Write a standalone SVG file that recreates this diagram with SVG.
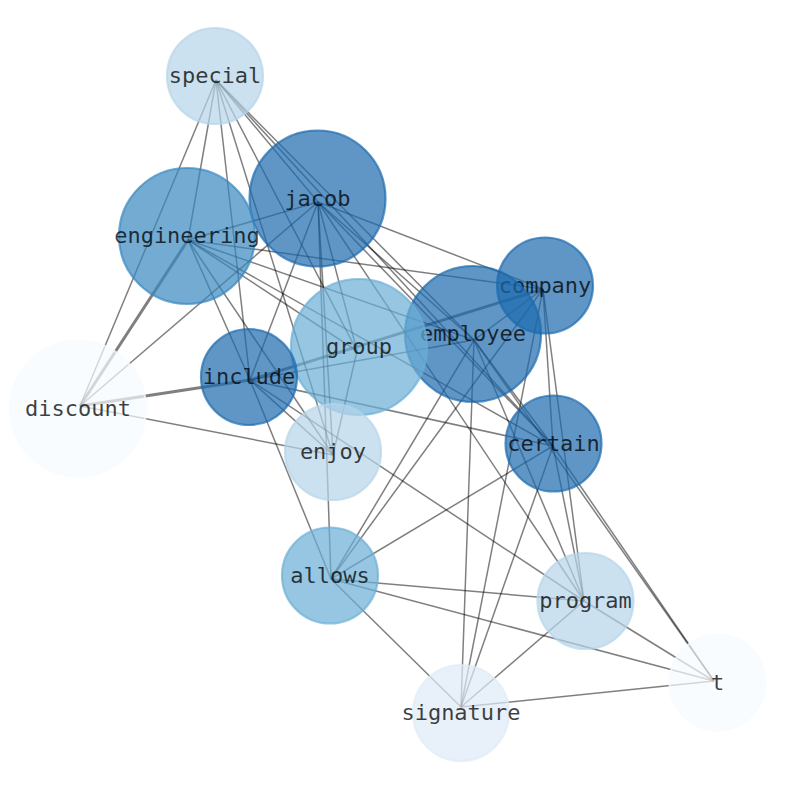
<svg xmlns="http://www.w3.org/2000/svg" width="794" height="790" viewBox="0 0 794 790">
<style>
.e{stroke:#000;stroke-opacity:0.5;stroke-width:1.5;fill:none}
.w{stroke-width:3}
.n{fill-opacity:0.7;stroke-opacity:0.7;stroke-width:2.2}
.l{font-family:"DejaVu Sans Mono",monospace;font-size:22px;fill:#000;fill-opacity:0.75;text-anchor:middle}
.d{fill:#1b69ae;stroke:#1b69ae}
.m{fill:#3787c0;stroke:#3787c0}
.g{fill:#6baed6;stroke:#6baed6}
.s{fill:#b5d4e9;stroke:#b5d4e9}
.x{fill:#deebf7;stroke:#deebf7}
.z{fill:#f7fbff;stroke:#f7fbff}
</style>
<rect width="794" height="790" fill="#fff"/>
<g id="edges">
<line class="e" x1="216" y1="80" x2="80" y2="406"/>
<line class="e" x1="216" y1="80" x2="188" y2="240"/>
<line class="e" x1="216" y1="80" x2="250" y2="380"/>
<line class="e" x1="216" y1="80" x2="333" y2="455"/>
<line class="e" x1="216" y1="80" x2="357" y2="351"/>
<line class="e" x1="216" y1="80" x2="318" y2="202"/>
<line class="e" x1="216" y1="80" x2="474" y2="340"/>
<line class="e" x1="216" y1="80" x2="553" y2="446"/>
<line class="e w" x1="188" y1="240" x2="80" y2="406"/>
<line class="e" x1="188" y1="240" x2="318" y2="202"/>
<line class="e" x1="188" y1="240" x2="543" y2="289"/>
<line class="e" x1="188" y1="240" x2="474" y2="340"/>
<line class="e" x1="188" y1="240" x2="357" y2="351"/>
<line class="e" x1="188" y1="240" x2="250" y2="380"/>
<line class="e" x1="188" y1="240" x2="333" y2="455"/>
<line class="e" x1="188" y1="240" x2="553" y2="446"/>
<line class="e" x1="318" y1="202" x2="80" y2="406"/>
<line class="e" x1="318" y1="202" x2="250" y2="380"/>
<line class="e" x1="318" y1="202" x2="357" y2="351"/>
<line class="e" x1="318" y1="202" x2="333" y2="455"/>
<line class="e" x1="318" y1="202" x2="331" y2="579"/>
<line class="e" x1="318" y1="202" x2="474" y2="340"/>
<line class="e" x1="318" y1="202" x2="543" y2="289"/>
<line class="e" x1="318" y1="202" x2="553" y2="446"/>
<line class="e" x1="318" y1="202" x2="584" y2="601"/>
<line class="e w" x1="80" y1="406" x2="250" y2="380"/>
<line class="e" x1="80" y1="406" x2="333" y2="455"/>
<line class="e w" x1="250" y1="380" x2="543" y2="289"/>
<line class="e" x1="250" y1="380" x2="474" y2="340"/>
<line class="e" x1="250" y1="380" x2="333" y2="455"/>
<line class="e" x1="250" y1="380" x2="331" y2="579"/>
<line class="e" x1="250" y1="380" x2="584" y2="601"/>
<line class="e" x1="250" y1="380" x2="553" y2="446"/>
<line class="e" x1="357" y1="351" x2="333" y2="455"/>
<line class="e" x1="474" y1="340" x2="543" y2="289"/>
<line class="e" x1="474" y1="340" x2="553" y2="446"/>
<line class="e" x1="474" y1="340" x2="331" y2="579"/>
<line class="e" x1="474" y1="340" x2="461" y2="707"/>
<line class="e" x1="474" y1="340" x2="584" y2="601"/>
<line class="e" x1="474" y1="340" x2="714" y2="681"/>
<line class="e" x1="543" y1="289" x2="553" y2="446"/>
<line class="e" x1="543" y1="289" x2="584" y2="601"/>
<line class="e" x1="543" y1="289" x2="461" y2="707"/>
<line class="e" x1="543" y1="289" x2="331" y2="579"/>
<line class="e" x1="553" y1="446" x2="331" y2="579"/>
<line class="e" x1="553" y1="446" x2="461" y2="707"/>
<line class="e" x1="553" y1="446" x2="584" y2="601"/>
<line class="e" x1="553" y1="446" x2="714" y2="681"/>
<line class="e" x1="331" y1="579" x2="584" y2="601"/>
<line class="e" x1="331" y1="579" x2="714" y2="681"/>
<line class="e" x1="331" y1="579" x2="461" y2="707"/>
<line class="e" x1="584" y1="601" x2="461" y2="707"/>
<line class="e" x1="584" y1="601" x2="714" y2="681"/>
<line class="e" x1="461" y1="707" x2="714" y2="681"/>
</g>
<g id="special"><circle class="n s" cx="215" cy="76" r="48"/><text class="l" x="215" y="83">special</text></g>
<g id="jacob"><circle class="n d" cx="317.5" cy="198.5" r="68"/><text class="l" x="317.5" y="205.5">jacob</text></g>
<g id="engineering"><circle class="n m" cx="187" cy="236" r="68"/><text class="l" x="187" y="243">engineering</text></g>
<g id="company"><circle class="n d" cx="545" cy="285.5" r="48"/><text class="l" x="545" y="292.5">company</text></g>
<g id="employee"><circle class="n d" cx="473" cy="334" r="68"/><text class="l" x="473" y="341">employee</text></g>
<g id="group"><circle class="n g" cx="359" cy="347" r="68"/><text class="l" x="359" y="354">group</text></g>
<g id="include"><circle class="n d" cx="249" cy="377" r="48"/><text class="l" x="249" y="384">include</text></g>
<g id="discount"><circle class="n z" cx="78" cy="408.5" r="68"/><text class="l" x="78" y="415.5">discount</text></g>
<g id="enjoy"><circle class="n s" cx="333" cy="452" r="48"/><text class="l" x="333" y="459">enjoy</text></g>
<g id="certain"><circle class="n d" cx="553.5" cy="443.5" r="48"/><text class="l" x="553.5" y="450.5">certain</text></g>
<g id="allows"><circle class="n g" cx="330" cy="575.5" r="48"/><text class="l" x="330" y="582.5">allows</text></g>
<g id="program"><circle class="n s" cx="585.5" cy="601" r="48"/><text class="l" x="585.5" y="608">program</text></g>
<g id="signature"><circle class="n x" cx="461" cy="713" r="48"/><text class="l" x="461" y="720">signature</text></g>
<g id="t"><circle class="n z" cx="717.5" cy="682.5" r="48"/><text class="l" x="717.5" y="689.5">t</text></g>
</svg>
